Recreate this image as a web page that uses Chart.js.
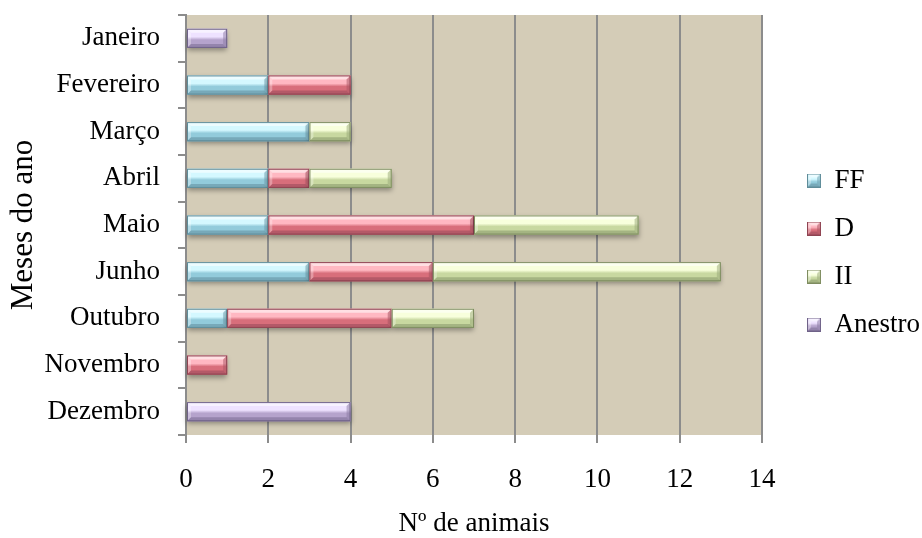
<!DOCTYPE html>
<html>
<head>
<meta charset="utf-8">
<script src="https://cdn.jsdelivr.net/npm/chart.js@4.4.1/dist/chart.umd.min.js"></script>
<style>
  html, body { margin: 0; padding: 0; background: #ffffff; }
  #wrap { width: 922px; height: 538px; position: relative; }
</style>
</head>
<body>
<div id="wrap"><canvas id="c" width="922" height="538"></canvas></div>
<script>
const months = ['Janeiro', 'Fevereiro', 'Março', 'Abril', 'Maio', 'Junho', 'Outubro', 'Novembro', 'Dezembro'];
const ffValues      = [0, 2, 3, 2, 2, 3, 1, 0, 0];
const dValues       = [0, 2, 0, 1, 5, 3, 4, 1, 0];
const iiValues      = [0, 0, 1, 2, 4, 7, 2, 0, 0];
const anestroValues = [1, 0, 0, 0, 0, 0, 0, 0, 4];
const xTicks = [0, 2, 4, 6, 8, 10, 12, 14];

const FONT = "'Times New Roman', 'Liberation Serif', serif";
const FS = 27;

const palette = {
  FF:      { base: '#92CBDB', light: '#D4F8FF', dark: '#6E9EAD', edge: '#5F8C99' },
  D:       { base: '#D86E7B', light: '#FFB8C2', dark: '#A85361', edge: '#8E4452' },
  II:      { base: '#C8D8A0', light: '#F8FFDC', dark: '#98A878', edge: '#7E8C60' },
  Anestro: { base: '#B5A3CC', light: '#EEE2FF', dark: '#8A7AA2', edge: '#6F6288' }
};

function bevelRect(ctx, l, t, w, h, pal, b) {
  const r = l + w, btm = t + h;
  const g = ctx.createLinearGradient(0, t, 0, btm);
  g.addColorStop(0, pal.light);
  g.addColorStop(0.42, pal.light);
  g.addColorStop(0.58, pal.base);
  g.addColorStop(1, pal.base);
  ctx.fillStyle = g;
  ctx.fillRect(l, t, w, h);
  ctx.shadowColor = 'transparent';
  ctx.fillStyle = 'rgba(255,255,255,0.55)';
  ctx.beginPath();
  ctx.moveTo(l, t); ctx.lineTo(r, t); ctx.lineTo(r - b, t + b); ctx.lineTo(l + b, t + b); ctx.closePath(); ctx.fill();
  ctx.fillStyle = 'rgba(255,255,255,0.3)';
  ctx.beginPath();
  ctx.moveTo(l, t); ctx.lineTo(l + b, t + b); ctx.lineTo(l + b, btm - b); ctx.lineTo(l, btm); ctx.closePath(); ctx.fill();
  ctx.fillStyle = pal.dark;
  ctx.globalAlpha = 0.75;
  ctx.beginPath();
  ctx.moveTo(l, btm); ctx.lineTo(r, btm); ctx.lineTo(r - b, btm - b); ctx.lineTo(l + b, btm - b); ctx.closePath(); ctx.fill();
  ctx.globalAlpha = 0.5;
  ctx.beginPath();
  ctx.moveTo(r, t); ctx.lineTo(r, btm); ctx.lineTo(r - b, btm - b); ctx.lineTo(r - b, t + b); ctx.closePath(); ctx.fill();
  ctx.globalAlpha = 1;
  ctx.strokeStyle = pal.edge;
  ctx.lineWidth = 1;
  ctx.strokeRect(l + 0.5, t + 0.5, w - 1, h - 1);
}

function legendIcon(pal) {
  const c = document.createElement('canvas');
  c.width = 14; c.height = 14;
  const x = c.getContext('2d');
  bevelRect(x, 0, 0, 14, 14, pal, 4);
  return c;
}

function ds(label, data, key) {
  return {
    label, data,
    backgroundColor: palette[key].base,
    borderWidth: 0,
    barPercentage: 0.41,
    categoryPercentage: 1.0,
    _pal: palette[key],
    _icon: legendIcon(palette[key])
  };
}

const bgPlugin = {
  id: 'plotBg',
  beforeDraw(chart) {
    const { ctx, chartArea: a } = chart;
    ctx.save();
    ctx.fillStyle = '#D4CCB7';
    ctx.fillRect(a.left, a.top, a.right - a.left, a.bottom - a.top);
    ctx.restore();
  }
};

const legendShift = {
  id: 'legendShift',
  afterLayout(chart) {
    const lg = chart.legend;
    if (lg) { lg.left += 24; lg.right += 24; }
  }
};

const bevelPlugin = {
  id: 'bevel',
  afterDatasetsDraw(chart) {
    const ctx = chart.ctx;
    chart.data.datasets.forEach((d, i) => {
      const meta = chart.getDatasetMeta(i);
      if (meta.hidden) return;
      meta.data.forEach((el, j) => {
        if (!d.data[j]) return;
        const p = el.getProps(['x', 'y', 'base', 'height'], true);
        const l = Math.min(p.x, p.base), r = Math.max(p.x, p.base);
        const t = p.y - p.height / 2, btm = p.y + p.height / 2;
        ctx.save();
        ctx.shadowColor = 'rgba(0,0,0,0.35)';
        ctx.shadowBlur = 5;
        ctx.shadowOffsetY = 3;
        bevelRect(ctx, l, t, r - l, btm - t, d._pal, 4);
        ctx.restore();
      });
    });
  }
};

const chart = new Chart(document.getElementById('c'), {
  type: 'bar',
  data: {
    labels: months,
    datasets: [
      ds('FF', ffValues, 'FF'),
      ds('D', dValues, 'D'),
      ds('II', iiValues, 'II'),
      ds('Anestro', anestroValues, 'Anestro')
    ]
  },
  options: {
    indexAxis: 'y',
    responsive: false,
    animation: false,
    events: [],
    layout: { padding: { top: 15, bottom: 48, left: 0, right: 16 } },
    plugins: {
      tooltip: { enabled: false },
      legend: {
        position: 'right',
        align: 'center',
        labels: {
          font: { family: FONT, size: FS },
          color: '#000000',
          boxWidth: 14,
          boxHeight: 14,
          padding: 21,
          usePointStyle: true,
          generateLabels(chart) {
            return chart.data.datasets.map((d, i) => ({
              text: d.label,
              fillStyle: d._pal.base,
              strokeStyle: d._pal.edge,
              lineWidth: 0,
              pointStyle: d._icon,
              hidden: false,
              datasetIndex: i
            }));
          }
        }
      }
    },
    scales: {
      x: {
        stacked: true,
        min: 0, max: 14,
        afterBuildTicks(scale) { scale.ticks = xTicks.map(v => ({ value: v })); },
        afterFit(scale) { scale.height = 55; scale.paddingLeft = 0; scale.paddingRight = 0; },
        grid: {
          color: '#8C8C8C',
          lineWidth: 2,
          tickLength: 8,
          drawTicks: true
        },
        border: { display: false },
        ticks: {
          font: { family: FONT, size: FS },
          color: '#000000',
          padding: 21,
          maxRotation: 0
        },
        title: {
          display: true,
          text: 'Nº de animais',
          font: { family: FONT, size: FS },
          color: '#000000',
          padding: { top: 0, bottom: -50 }
        }
      },
      y: {
        stacked: true,
        afterFit(scale) { scale.width = 186; scale.paddingTop = 0; scale.paddingBottom = 0; },
        grid: {
          offset: true,
          drawOnChartArea: false,
          color: '#8C8C8C',
          lineWidth: 2,
          tickLength: 8
        },
        border: { display: true, color: '#8C8C8C', width: 2 },
        ticks: {
          font: { family: FONT, size: FS },
          color: '#000000',
          padding: 18
        },
        title: {
          display: true,
          text: 'Meses do ano',
          font: { family: FONT, size: 31 },
          color: '#000000',
          padding: { top: 5, bottom: 0 }
        }
      }
    }
  },
  plugins: [bgPlugin, bevelPlugin, legendShift]
});
</script>
</body>
</html>
